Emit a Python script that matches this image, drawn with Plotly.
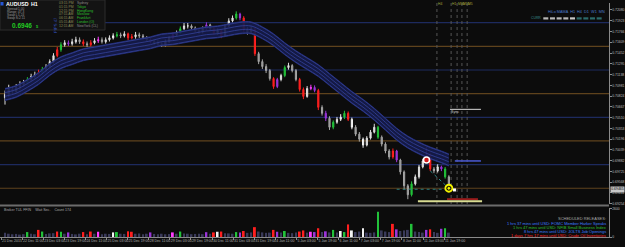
import plotly.graph_objects as go

# ---------------- data ----------------
first_open = 0.70800
closes = [0.70848, 0.70921, 0.70892, 0.70950, 0.70993, 0.71022, 0.71066, 0.71109, 0.71138, 0.71167,
          0.71211, 0.71254, 0.71327, 0.71414, 0.71500, 0.71573, 0.71602, 0.71587, 0.71616, 0.71645,
          0.71616, 0.71587, 0.71573, 0.71602, 0.71631, 0.71645, 0.71616, 0.71645, 0.71674, 0.71703,
          0.71718, 0.71703, 0.71732, 0.71674, 0.71689, 0.71718, 0.71703, 0.71674, 0.71645, 0.71616,
          0.71602, 0.71587, 0.71573, 0.71616, 0.71674, 0.71718, 0.71747, 0.71805, 0.71848, 0.71848,
          0.71819, 0.71776, 0.71761, 0.71805, 0.71863, 0.71805, 0.71747, 0.71776, 0.71703, 0.71848,
          0.71921, 0.71964, 0.72022, 0.71964, 0.71790, 0.71761, 0.71805, 0.71443, 0.71327, 0.71254,
          0.71196, 0.71080, 0.70964, 0.71066, 0.71124, 0.71240, 0.71269, 0.71196, 0.71066, 0.70921,
          0.70819, 0.70935, 0.70950, 0.70906, 0.70660, 0.70573, 0.70501, 0.70370, 0.70443, 0.70486,
          0.70515, 0.70573, 0.70486, 0.70370, 0.70269, 0.70196, 0.70109, 0.70211, 0.70298, 0.70370,
          0.70225, 0.70124, 0.70023, 0.69936, 0.70023, 0.69892, 0.69718, 0.69515, 0.69385, 0.69544,
          0.69646, 0.69791, 0.69878, 0.69965, 0.69762, 0.69733, 0.69791, 0.69762, 0.69646, 0.69465]
highs = [0.70905, 0.70990, 0.70960, 0.71000, 0.71040, 0.71060, 0.71100, 0.71150, 0.71180, 0.71210,
         0.71250, 0.71290, 0.71360, 0.71450, 0.71540, 0.71610, 0.71640, 0.71635, 0.71660, 0.71690,
         0.71680, 0.71650, 0.71620, 0.71640, 0.71670, 0.71690, 0.71680, 0.71680, 0.71710, 0.71740,
         0.71760, 0.71750, 0.71770, 0.71750, 0.71730, 0.71760, 0.71750, 0.71730, 0.71700, 0.71670,
         0.71650, 0.71640, 0.71620, 0.71650, 0.71700, 0.71750, 0.71780, 0.71840, 0.71890, 0.71890,
         0.71870, 0.71840, 0.71810, 0.71840, 0.71900, 0.71880, 0.71830, 0.71810, 0.71790, 0.71870,
         0.71960, 0.72000, 0.72060, 0.72040, 0.71990, 0.71830, 0.71850, 0.71820, 0.71470, 0.71360,
         0.71290, 0.71220, 0.71100, 0.71090, 0.71150, 0.71270, 0.71310, 0.71290, 0.71220, 0.71090,
         0.70950, 0.70970, 0.70990, 0.70980, 0.70930, 0.70690, 0.70610, 0.70530, 0.70470, 0.70520,
         0.70560, 0.70610, 0.70600, 0.70510, 0.70400, 0.70300, 0.70220, 0.70240, 0.70330, 0.70420,
         0.70390, 0.70250, 0.70150, 0.70050, 0.70060, 0.70040, 0.69910, 0.69740, 0.69540, 0.69580,
         0.69680, 0.69820, 0.69910, 0.70080, 0.69990, 0.69790, 0.69830, 0.69810, 0.69790, 0.69670]
lows = [0.70700, 0.70810, 0.70850, 0.70870, 0.70920, 0.70960, 0.70990, 0.71040, 0.71080, 0.71110,
        0.71140, 0.71180, 0.71230, 0.71300, 0.71390, 0.71470, 0.71545, 0.71555, 0.71560, 0.71590,
        0.71585, 0.71555, 0.71540, 0.71545, 0.71580, 0.71600, 0.71590, 0.71590, 0.71620, 0.71650,
        0.71680, 0.71670, 0.71680, 0.71640, 0.71650, 0.71660, 0.71670, 0.71650, 0.71620, 0.71590,
        0.71570, 0.71560, 0.71540, 0.71550, 0.71600, 0.71650, 0.71700, 0.71730, 0.71790, 0.71810,
        0.71790, 0.71750, 0.71730, 0.71740, 0.71780, 0.71780, 0.71720, 0.71720, 0.71670, 0.71690,
        0.71830, 0.71900, 0.71940, 0.71930, 0.71760, 0.71720, 0.71740, 0.71410, 0.71290, 0.71220,
        0.71160, 0.71050, 0.70930, 0.70940, 0.71040, 0.71100, 0.71210, 0.71170, 0.71040, 0.70890,
        0.70780, 0.70800, 0.70910, 0.70880, 0.70620, 0.70540, 0.70460, 0.70330, 0.70340, 0.70420,
        0.70460, 0.70490, 0.70460, 0.70340, 0.70240, 0.70160, 0.70070, 0.70090, 0.70190, 0.70280,
        0.70200, 0.70090, 0.69990, 0.69900, 0.69910, 0.69860, 0.69680, 0.69460, 0.69320, 0.69360,
        0.69520, 0.69620, 0.69770, 0.69850, 0.69730, 0.69700, 0.69710, 0.69730, 0.69620, 0.69440]
volumes = [380, 300, 250, 280, 220, 260, 450, 300, 250, 650,
           500, 280, 330, 350, 500, 480, 300, 420, 280, 240,
           300, 450, 260, 500, 300, 480, 260, 300, 280, 420,
           450, 300, 280, 520, 480, 300, 320, 260, 300, 420,
           280, 260, 300, 250, 270, 420, 300, 500, 320, 300,
           260, 280, 300, 260, 440, 300, 420, 480, 500, 350,
           330, 300, 450, 400, 550, 380, 420, 900, 500, 420,
           380, 400, 650, 480, 400, 550, 380, 350, 420, 500,
           600, 400, 480, 450, 800, 450, 520, 420, 650, 400,
           550, 450, 1150, 600, 450, 500, 800, 400, 380, 420,
           2300, 600, 500, 450, 1200, 700, 550, 600, 650, 1200,
           500, 450, 400, 650, 700, 450, 380, 750, 800, 400]
# bars highlighted by the volume indicator: r=red g=green p=purple m=magenta w=white
hl_index = [6, 9, 10, 14, 15, 17, 21, 23, 25, 29, 30, 33, 34, 39, 45, 47, 54, 56, 57, 58,
            62, 63, 64, 67, 72, 73, 75, 79, 80, 82, 83, 84, 86, 88, 90, 91, 92, 93, 96, 100,
            104, 105, 109, 113, 114, 117, 118]
hl_color = ['g', 'r', 'g', 'r', 'g', 'p', 'r', 'r', 'm', 'w', 'g', 'r', 'r', 'p', 'm', 'g', 'p', 'r', 'w', 'r',
            'g', 'p', 'r', 'r', 'r', 'p', 'g', 'r', 'r', 'm', 'p', 'r', 'p', 'g', 'w', 'g', 'r', 'w', 'w', 'g',
            'r', 'p', 'g', 'p', 'r', 'p', 'g']
# moving-average envelope (centre), sampled every 3 bars
band_bars = [0, 3, 6, 9, 12, 15, 18, 21, 24, 27, 30, 33, 36, 39, 42, 45, 48, 51, 54, 57,
             60, 63, 66, 69, 72, 75, 78, 81, 84, 87, 90, 93, 96, 99, 102, 105, 108, 111, 114, 117, 119]
band_mid = [0.70848, 0.70892, 0.70979, 0.71080, 0.71211, 0.71312, 0.71370, 0.71428, 0.71457, 0.71486,
            0.71515, 0.71544, 0.71573, 0.71602, 0.71645, 0.71660, 0.71689, 0.71718, 0.71747, 0.71761,
            0.71790, 0.71819, 0.71819, 0.71747, 0.71645, 0.71515, 0.71399, 0.71298, 0.71196, 0.71066,
            0.70935, 0.70805, 0.70689, 0.70559, 0.70414, 0.70269, 0.70153, 0.70066, 0.69994, 0.69936, 0.69892]
band_line_offsets = [-0.00080, -0.00027, 0.00027, 0.00080]
band_half_width = 0.00088
# horizontal levels
level_prices = [0.71895, 0.71550, 0.71205, 0.70860, 0.70515, 0.70170, 0.69825, 0.69480]
level_kind = ['blue', 'brown', 'blue', 'brown', 'blue', 'brown', 'blue', 'brown']
# price axis labels
price_ticks = [0.72080, 0.71923, 0.71766, 0.71609, 0.71452, 0.71295, 0.71138, 0.70981, 0.70824, 0.70667,
               0.70510, 0.70353, 0.70196, 0.70039, 0.69882, 0.69725, 0.69568, 0.69411, 0.69254]
current_price = 0.69465
time_labels = ['21 Dec 2015', '22 Dec 11:00', '23 Dec 03:00', '23 Dec 19:00', '24 Dec 11:00', '25 Dec 03:00',
               '25 Dec 19:00', '28 Dec 11:00', '29 Dec 03:00', '29 Dec 19:00', '30 Dec 11:00', '31 Dec 03:00',
               '31 Dec 19:00', '4 Jan 11:00', '5 Jan 03:00', '5 Jan 19:00', '6 Jan 11:00', '7 Jan 03:00',
               '7 Jan 19:00', '8 Jan 11:00', '11 Jan 03:00', '11 Jan 19:00']
vol_ticks = [0, 2600]
# chart objects drawn by indicators (bar start, bar end, price)
obj_start = [119.3, 120.6, 118.5, 110.7]
obj_end = [127.6, 127.6, 126.8, 127.9]
obj_price = [0.70631, 0.69878, 0.69320, 0.69290]
signal_bars = [113, 119]
signal_prices = [0.69892, 0.69480]
trend_bars = [114, 119]
trend_prices = [0.69733, 0.69480]
tf_bars = [115.8, 119.6, 121.2, 122.5, 123.9]
tf_names = ['H4', 'H1', 'M30', 'M15', 'M5']
sessions = ['Sydney', 'Tokyo', 'HongKong', 'Moscow', 'Frankfurt', 'London (O)', 'NewYork (CL)']
session_times = ['03:15 PM', '01:15 PM', '12:15 PM', '07:15 AM', '06:15 AM', '05:15 AM', '12:15 AM']
session_open = [False, True, True, True, True, True, False]
releases = ['1 hrs 37 mins until USD: FOMC Member Harker Speaks',
            '1 hrs 47 mins until USD: NFIB Small Business Index',
            '8 hrs 47 mins until USD: JOLTS Job Openings',
            '1 days 7 hrs 17 mins until USD: Crude Oil Inventories']
release_colors = ['#3d7dff', '#2fc02f', '#3d7dff', '#ff2424']

# ---------------- figure ----------------
N = len(closes)
bars = list(range(N))
opens = [first_open] + closes[:-1]
hl = dict(zip(hl_index, hl_color))
PAL = {'r': '#ff1f1f', 'g': '#22c23a', 'p': '#9a35d8', 'm': '#ff3cff', 'w': '#f4f4f4'}
FONT = 'Liberation Sans'
BG = '#0c0c0c'

PW, PH = 609, 237
def ppx(x):
    return x / PW
def ppy(y):
    return (PH - y) / PH

bar_px = 3.73
x_range = [(0 - 5) / bar_px, (PW - 5) / bar_px]

fig = go.Figure()

# envelope band
upper = [m + band_half_width for m in band_mid]
lower = [m - band_half_width for m in band_mid]
fig.add_trace(go.Scatter(x=band_bars, y=upper, mode='lines',
                         line=dict(color='#212a6c', width=1, shape='spline'), hoverinfo='skip'))
fig.add_trace(go.Scatter(x=band_bars, y=lower, mode='lines', fill='tonexty',
                         fillcolor='rgba(22,27,74,0.92)',
                         line=dict(color='#212a6c', width=1, shape='spline'), hoverinfo='skip'))
for off in band_line_offsets:
    fig.add_trace(go.Scatter(x=band_bars, y=[m + off for m in band_mid], mode='lines',
                             line=dict(color='#303d92', width=0.9, shape='spline'), hoverinfo='skip'))

# candles
norm = [i for i in bars if i not in hl]
fig.add_trace(go.Candlestick(
    x=norm, open=[opens[i] for i in norm], high=[highs[i] for i in norm],
    low=[lows[i] for i in norm], close=[closes[i] for i in norm],
    increasing=dict(line=dict(color='#dedede', width=1), fillcolor='#eaeaea'),
    decreasing=dict(line=dict(color='#a6a6a6', width=1), fillcolor='#8e8e8e'),
    whiskerwidth=0))
for code, col in PAL.items():
    idx = [i for i in hl_index if hl[i] == code]
    if not idx:
        continue
    fig.add_trace(go.Candlestick(
        x=idx, open=[opens[i] for i in idx], high=[highs[i] for i in idx],
        low=[lows[i] for i in idx], close=[closes[i] for i in idx],
        increasing=dict(line=dict(color=col, width=1), fillcolor=col),
        decreasing=dict(line=dict(color=col, width=1), fillcolor=col),
        whiskerwidth=0))

# indicator objects
obj_colors = ['#d8d8d8', '#4b5bd6', '#9a1c1c', '#d9dc92']
obj_widths = [1, 1.5, 2, 2]
for s, e, p, c, w in zip(obj_start, obj_end, obj_price, obj_colors, obj_widths):
    fig.add_trace(go.Scatter(x=[s, e], y=[p, p], mode='lines', line=dict(color=c, width=w),
                             hoverinfo='skip'))
fig.add_trace(go.Scatter(x=trend_bars, y=trend_prices, mode='lines',
                         line=dict(color='#2c8c8c', width=1, dash='dot'), hoverinfo='skip'))
fig.add_trace(go.Scatter(x=[105, 119], y=[current_price, current_price], mode='lines',
                         line=dict(color='#2c7c7c', width=1, dash='dot'), hoverinfo='skip'))
fig.add_trace(go.Scatter(x=[signal_bars[0]], y=[signal_prices[0]], mode='markers',
                         marker=dict(symbol='circle', size=6, color='#d01818',
                                     line=dict(color='#ffffff', width=1.5)), hoverinfo='skip'))
fig.add_trace(go.Scatter(x=[signal_bars[1]], y=[signal_prices[1]], mode='markers',
                         marker=dict(symbol='circle-dot', size=7, color='#151500',
                                     line=dict(color='#f2f200', width=1.8)), hoverinfo='skip'))
fig.add_trace(go.Scatter(x=[signal_bars[1] + 1.5], y=[signal_prices[1] - 0.00025], mode='markers',
                         marker=dict(symbol='square', size=3, color='#ffffff'), hoverinfo='skip'))

# volumes
vcol = [PAL[hl[i]] if i in hl else '#3a3a5a' for i in bars]
fig.add_trace(go.Bar(x=bars, y=volumes, marker=dict(color=vcol, line=dict(width=0)),
                     width=0.5, xaxis='x2', yaxis='y2', hoverinfo='skip'))

shapes = []
for p, k in zip(level_prices, level_kind):
    shapes.append(dict(type='line', xref='x domain', yref='y', x0=0, x1=1, y0=p, y1=p,
                       line=dict(color='#1d2a5e' if k == 'blue' else '#5e421c', width=1.2),
                       layer='below'))
for b in tf_bars:
    shapes.append(dict(type='line', xref='x', yref='y domain', x0=b, x1=b, y0=0, y1=1,
                       line=dict(color='#555555', width=1, dash='dot'), layer='below'))
# separator between panes
shapes.append(dict(type='rect', xref='paper', yref='paper', x0=0, x1=1,
                   y0=ppy(206.5), y1=ppy(204.5), fillcolor='#6c6c6c', line=dict(width=0)))
# info panel
shapes.append(dict(type='rect', xref='paper', yref='paper', x0=0, x1=ppx(105), y0=ppy(30), y1=ppy(0),
                   fillcolor='#131313', line=dict(color='#2c2c2c', width=1)))
shapes.append(dict(type='rect', xref='paper', yref='paper', x0=ppx(0.5), x1=ppx(3.5), y0=ppy(5.5), y1=ppy(2),
                   fillcolor='#2456d8', line=dict(width=0)))
# trend-status boxes top right
box_cols = ['#b8b8b8', '#b8b8b8', '#b8b8b8', '#b8b8b8', '#c8c8c8', '#2b6a6a', '#2b6a6a', '#2b6a6a', '#2b6a6a']
for k, c in enumerate(box_cols):
    x0 = 543.3 + 6.67 * k
    shapes.append(dict(type='rect', xref='paper', yref='paper', x0=ppx(x0), x1=ppx(x0 + 5),
                       y0=ppy(19.5), y1=ppy(17.3), fillcolor=c, line=dict(width=0)))

ann = []
def txt(x, y, s, color='#a0a0a0', size=4.5, anchor='left', bold=False, **kw):
    ann.append(dict(xref='paper', yref='paper', x=ppx(x), y=ppy(y), text=('<b>%s</b>' % s) if bold else s,
                    showarrow=False, xanchor=anchor, yanchor='middle',
                    font=dict(family=FONT, size=size, color=color), borderpad=0, **kw))

txt(4.5, 4, 'AUDUSD', '#ffffff', 5.3, bold=True)
txt(30, 4, 'H1', '#ffffff', 5.3, bold=True)
info_l = ['Spread:', 'Range:', 'Swap L:', 'Swap S:']
info_r = ['1.00', '47.3', '1.24', '-2.11']
for k, (a, b) in enumerate(zip(info_l, info_r)):
    txt(6, 8.5 + 3.1 * k, a, '#9a9a9a', 3.2)
    txt(17, 8.5 + 3.1 * k, b, '#9a9a9a', 3.2)
txt(11, 25.3, '0.6946', '#22cc22', 6.5, bold=True)
txt(34.5, 26.3, '5', '#22cc22', 4, bold=True)
ann.append(dict(xref='paper', yref='paper', x=ppx(50.5), y=ppy(15), text='PIPS 47', textangle=-90,
                showarrow=False, font=dict(family=FONT, size=4.2, color='#3656cc')))
for k, (t, s, o) in enumerate(zip(session_times, sessions, session_open)):
    yy = 3 + 3.8 * k
    txt(58, yy, t, '#8f8f58', 3.4)
    txt(76, yy, s, '#2cc02c' if o else '#8a8a8a', 3.4)

txt(606, 11.8, 'HiLo MAMA  H1  H4  D1  W1  MN', '#4a78c8', 3.8, anchor='right')
txt(541.5, 18.4, 'CURR', '#3a8a8a', 3.4, anchor='right')

for b, nm in zip(tf_bars, tf_names):
    ann.append(dict(xref='x', yref='paper', x=b, y=ppy(3.5), text=nm, showarrow=False, xanchor='left',
                    yanchor='middle', font=dict(family=FONT, size=3.3, color='#a6a63a'), borderpad=0))
ann.append(dict(xref='x', yref='y', x=119.3, y=0.70590, text='Sync', showarrow=False, xanchor='left',
                yanchor='middle', font=dict(family=FONT, size=3.6, color='#c8c8c8'), borderpad=0))

txt(3, 210, 'Broker TUL FFIN    Wait Sec.    Count 174', '#a8a8a8', 3.6)
txt(607, 218.5, 'SCHEDULED RELEASES:', '#a8a8a8', 4, anchor='right')
for k, (s, c) in enumerate(zip(releases, release_colors)):
    txt(607, 223 + 4 * k, s, c, 4, anchor='right')

# current price tag on the axis
ann.append(dict(xref='paper', yref='y', x=1, y=current_price, text='%.5f' % current_price, showarrow=False,
                xanchor='left', yanchor='middle', xshift=1, bgcolor='#c8c8c8', borderpad=0.3,
                font=dict(family=FONT, size=3.4, color='#000000')))

tick_bars = [(1 + 21.1 * k - 5) / bar_px for k in range(len(time_labels))]

fig.update_layout(
    width=625, height=247, margin=dict(l=0, r=16, t=0, b=10),
    paper_bgcolor=BG, plot_bgcolor=BG, showlegend=False, boxgap=0.55,
    shapes=shapes, annotations=ann,
    xaxis=dict(domain=[0, 1], range=x_range, anchor='y', showticklabels=False, showgrid=False,
               zeroline=False, rangeslider=dict(visible=False), fixedrange=True),
    yaxis=dict(domain=[ppy(204), ppy(3)], range=[0.69250, 0.72182], side='right',
               tickvals=price_ticks, ticktext=['%.5f' % v for v in price_ticks],
               tickfont=dict(family=FONT, size=3.4, color='#bdbdbd'), ticks='outside', ticklen=1.5,
               tickcolor='#8a8a8a', showline=True, linecolor='#8a8a8a', linewidth=1,
               showgrid=False, zeroline=False, automargin=False),
    xaxis2=dict(domain=[0, 1], range=x_range, anchor='y2', matches='x',
                tickvals=tick_bars, ticktext=time_labels, ticklabelposition='outside right',
                tickangle=0,
                tickfont=dict(family=FONT, size=3.5, color='#b0b0b0'), ticks='outside', ticklen=1.5,
                tickcolor='#8a8a8a', showline=True, linecolor='#8a8a8a', showgrid=False,
                zeroline=False, automargin=False),
    yaxis2=dict(domain=[0, ppy(208)], range=[0, 2650], anchor='x2', side='right',
                tickvals=vol_ticks, ticktext=[str(v) for v in vol_ticks],
                tickfont=dict(family=FONT, size=3.4, color='#bdbdbd'), ticks='outside', ticklen=1.5,
                tickcolor='#8a8a8a', showline=True, linecolor='#8a8a8a', showgrid=False,
                zeroline=False, automargin=False),
)

fig.write_html('out.html')
